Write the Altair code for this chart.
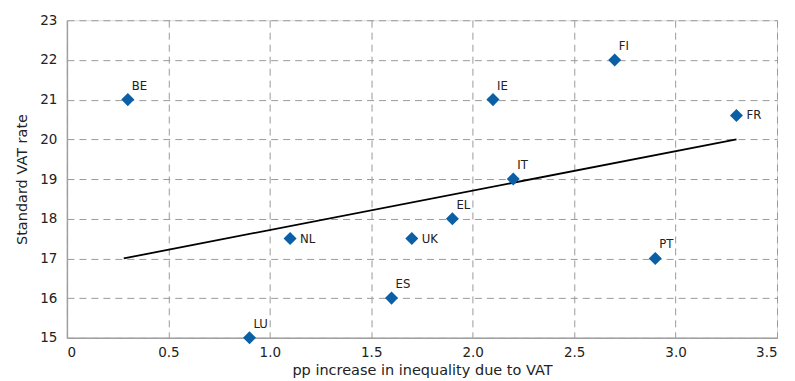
import altair as alt
import pandas as pd

countries = ["BE", "FI", "IE", "FR", "IT", "EL", "NL", "UK", "PT", "ES", "LU"]
ineq = [0.3, 2.7, 2.1, 3.3, 2.2, 1.9, 1.1, 1.7, 2.9, 1.6, 0.9]
vat = [21.0, 22.0, 21.0, 20.6, 19.0, 18.0, 17.5, 17.5, 17.0, 16.0, 15.0]
label_pos = ["above", "above", "above", "right", "above", "above", "right", "right", "above", "above", "above"]

trend_x = [0.28, 3.3]
trend_y = [17.0, 20.0]

x_ticks = [0, 0.5, 1.0, 1.5, 2.0, 2.5, 3.0, 3.5]
y_ticks = [15, 16, 17, 18, 19, 20, 21, 22, 23]

df = pd.DataFrame({"country": countries, "x": ineq, "y": vat, "pos": label_pos})
tdf = pd.DataFrame({"x": trend_x, "y": trend_y})

xscale = alt.Scale(domain=[0, 3.5], nice=False, zero=False)
yscale = alt.Scale(domain=[15, 23], nice=False, zero=False)

xaxis = alt.Axis(
    title="pp increase in inequality due to VAT",
    values=x_ticks,
    labelExpr="datum.value == 0 ? '0' : format(datum.value, '.1f')",
    labelOverlap=False,
    grid=True, gridDash=[7, 5], gridColor="#9a9a9a", gridWidth=1,
    ticks=False, domainColor="#a0a0a0", domainWidth=1.5,
    labelFont="DejaVu Sans", labelFontSize=13.5, labelColor="#222222", labelPadding=8,
    titleFont="DejaVu Sans", titleFontSize=14.5, titleFontWeight="normal", titleColor="#222222",
    titlePadding=4,
)
yaxis = alt.Axis(
    title="Standard VAT rate",
    values=y_ticks,
    tickCount=9,
    labelOverlap=False,
    grid=True, gridDash=[7, 5], gridColor="#9a9a9a", gridWidth=1,
    ticks=False, domainColor="#a0a0a0", domainWidth=1.5,
    labelFont="DejaVu Sans", labelFontSize=13.5, labelColor="#222222", labelPadding=10,
    titleFont="DejaVu Sans", titleFontSize=14.5, titleFontWeight="normal", titleColor="#222222",
    titlePadding=10,
)

base = alt.Chart(df)

points = base.mark_point(shape="diamond", filled=True, size=170, color="#0b5fa5", opacity=1).encode(
    x=alt.X("x:Q", scale=xscale, axis=xaxis),
    y=alt.Y("y:Q", scale=yscale, axis=yaxis),
)

trend = alt.Chart(tdf).mark_line(color="black", strokeWidth=1.8).encode(
    x=alt.X("x:Q", scale=xscale, axis=xaxis),
    y=alt.Y("y:Q", scale=yscale, axis=yaxis),
)

label_font = "DejaVu Sans Condensed"
above = base.transform_filter(alt.datum.pos == "above").mark_text(
    align="left", baseline="middle", dx=4, dy=-14, font=label_font, fontSize=13, color="#222222"
).encode(x=alt.X("x:Q", scale=xscale, axis=xaxis), y=alt.Y("y:Q", scale=yscale, axis=yaxis), text="country:N")

right = base.transform_filter(alt.datum.pos == "right").mark_text(
    align="left", baseline="middle", dx=10, dy=0, font=label_font, fontSize=13, color="#222222"
).encode(x=alt.X("x:Q", scale=xscale, axis=xaxis), y=alt.Y("y:Q", scale=yscale, axis=yaxis), text="country:N")

chart = alt.layer(trend, points, above, right).properties(
    width=711, height=318,
    autosize=alt.AutoSizeParams(type="none"),
    padding={"left": 59, "top": 12, "right": 10, "bottom": 40},
).configure_view(stroke="#a0a0a0", strokeWidth=1.5).configure(background="white")

chart.save("out.html", embed_options={"renderer": "svg", "actions": False})
